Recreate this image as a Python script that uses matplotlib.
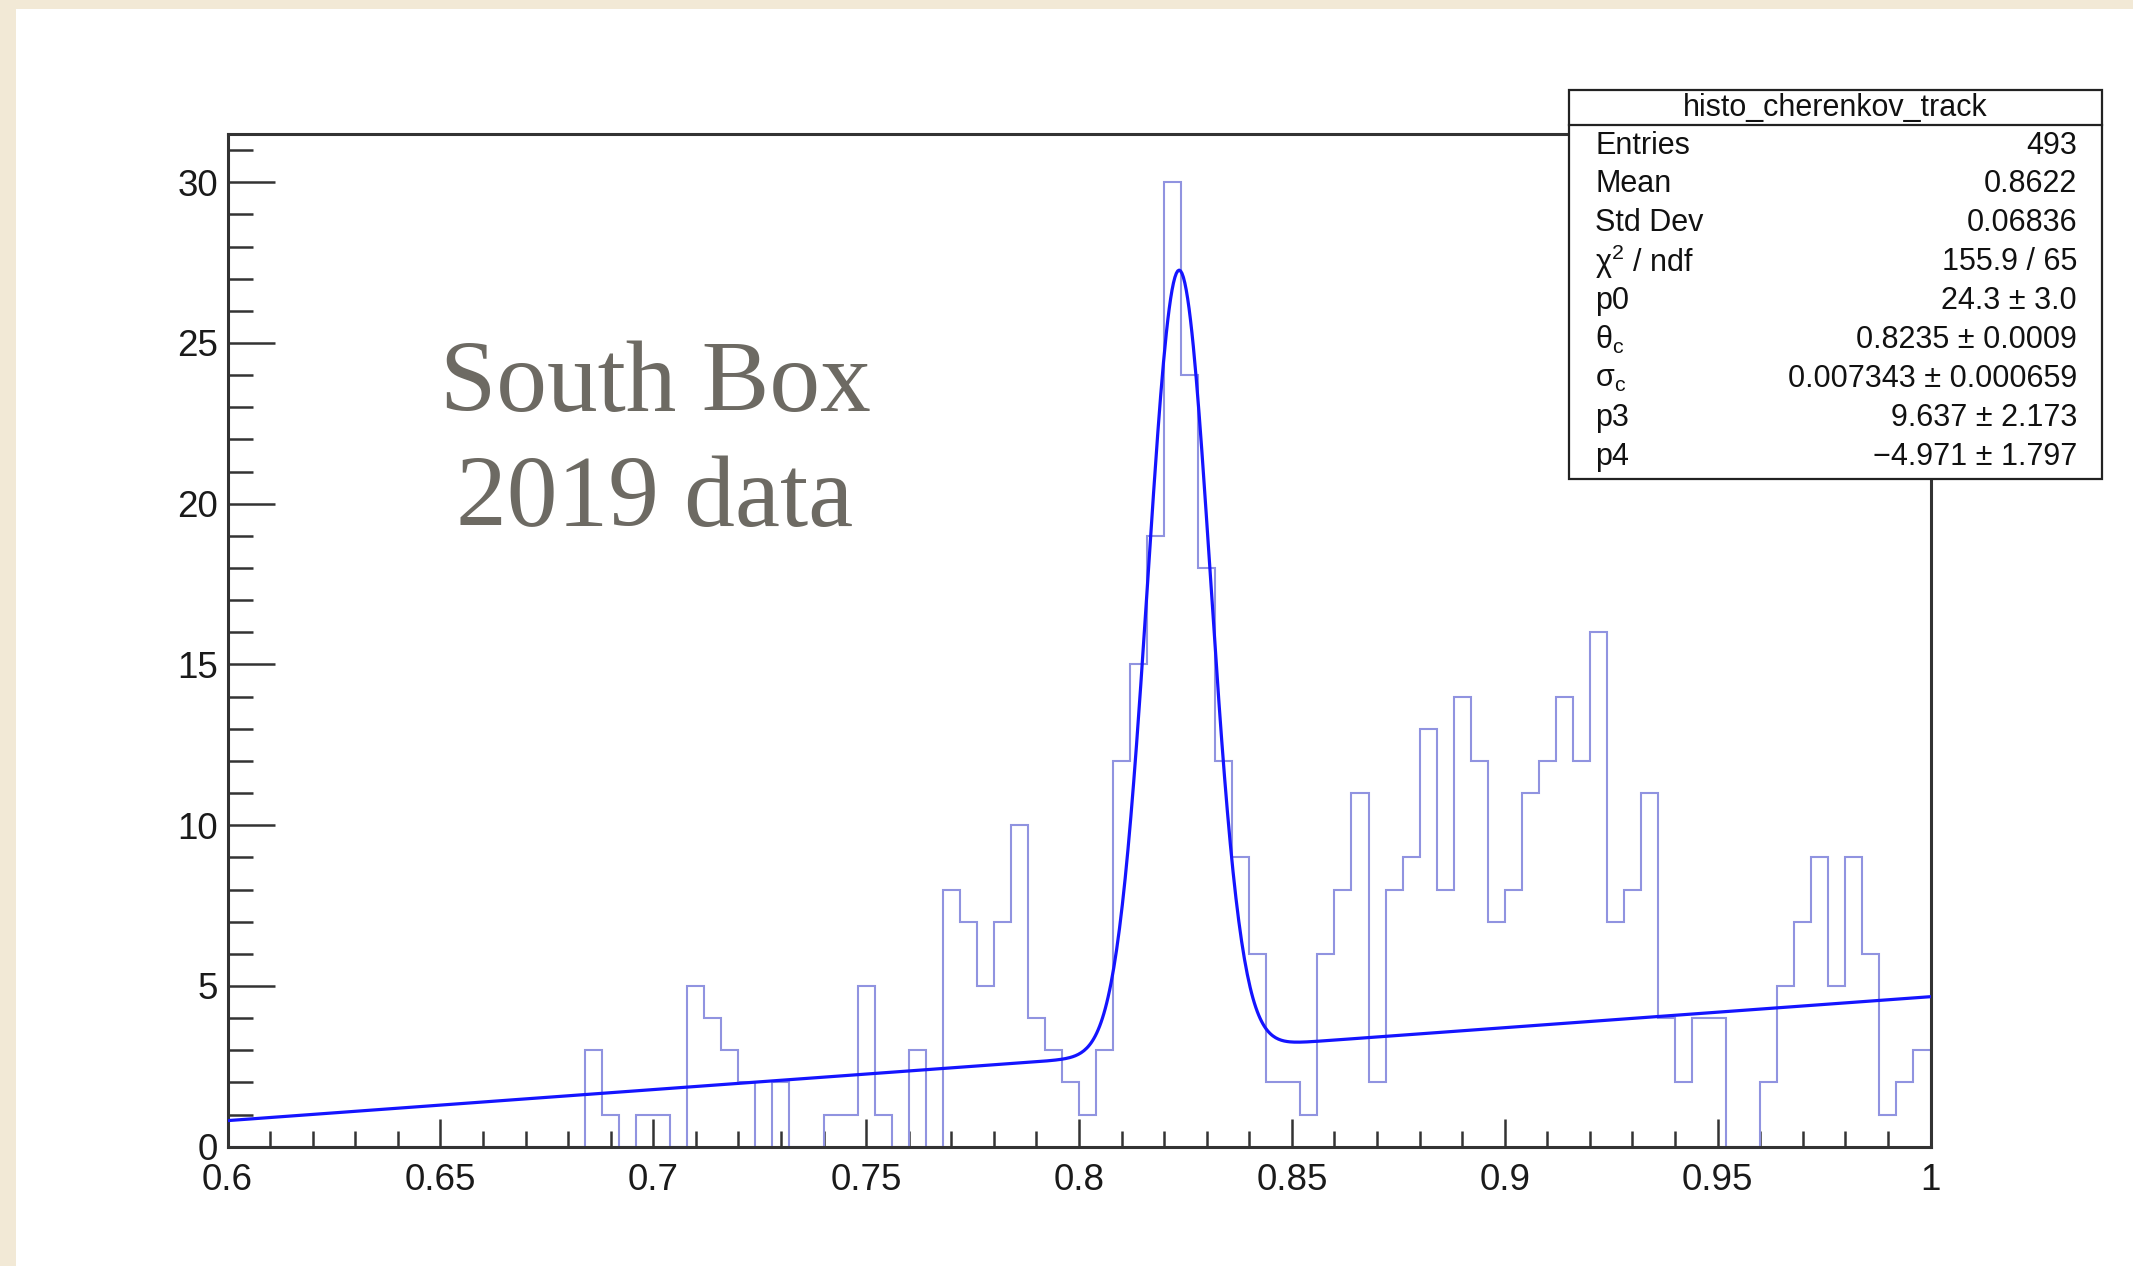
import numpy as np
import matplotlib
matplotlib.use("Agg")
import matplotlib.pyplot as plt
from matplotlib.patches import Rectangle
from matplotlib.ticker import MultipleLocator, FuncFormatter

# ---- histogram: 100 bins between 0.6 and 1.0 ----
x_min, x_max, n_bins = 0.6, 1.0, 100
counts = [
    0, 0, 0, 0, 0, 0, 0, 0, 0, 0,
    0, 0, 0, 0, 0, 0, 0, 0, 0, 0,
    0, 3, 1, 0, 1, 1, 0, 5, 4, 3,
    2, 0, 2, 0, 0, 1, 1, 5, 1, 0,
    3, 0, 8, 7, 5, 7, 10, 4, 3, 2,
    1, 3, 12, 15, 19, 30, 24, 18, 12, 9,
    6, 2, 2, 1, 6, 8, 11, 2, 8, 9,
    13, 8, 14, 12, 7, 8, 11, 12, 14, 12,
    16, 7, 8, 11, 4, 2, 4, 4, 0, 0,
    2, 5, 7, 9, 5, 9, 6, 1, 2, 3,
]

# ---- fit: gaussian + linear background ----
p0, theta_c, sigma_c, p3, p4 = 24.3, 0.8235, 0.007343, 9.637, -4.971

stats_title = "histo_cherenkov_track"
stats_labels = ["Entries", "Mean", "Std Dev", r"$\mathregular{\chi^{2}}$ / ndf", "p0",
                r"$\mathregular{\theta_{c}}$", r"$\mathregular{\sigma_{c}}$", "p3", "p4"]
stats_values = ["493", "0.8622", "0.06836", "155.9 / 65", "24.3 \u00b1 3.0",
                "0.8235 \u00b1 0.0009", "0.007343 \u00b1 0.000659",
                "9.637 \u00b1 2.173", "\u22124.971 \u00b1 1.797"]

W, H = 2133, 1266
plt.rcParams['font.family'] = ['Liberation Sans', 'DejaVu Sans']
plt.rcParams['mathtext.fontset'] = 'custom'
plt.rcParams['mathtext.rm'] = 'Liberation Sans'
plt.rcParams['mathtext.it'] = 'Liberation Sans:italic'

fig = plt.figure(figsize=(W / 100, H / 100), dpi=100)
fig.patch.set_facecolor('#f2e9d6')


def fx(px):
    return px / W


def fy(py):
    return 1 - py / H


# white page
fig.patches.append(Rectangle((fx(16), 0), 1 - fx(16), fy(9), transform=fig.transFigure,
                             facecolor='white', edgecolor='none', zorder=-5))

ax = fig.add_axes([fx(227.5), fy(1146.7), fx(1930.5) - fx(227.5), fy(134) - fy(1146.7)])
ax.set_zorder(2)
ax.set_facecolor('white')

edges = np.linspace(x_min, x_max, n_bins + 1)
ax.stairs(counts, edges, color='#9093e0', lw=1.5, zorder=2)

xf = np.linspace(x_min, x_max, 1200)
yf = p0 * np.exp(-0.5 * ((xf - theta_c) / sigma_c) ** 2) + p3 * xf + p4
ax.plot(xf, yf, color='#1414ff', lw=2.3, zorder=3)

ax.set_xlim(x_min, x_max)
ax.set_ylim(0, 31.5)

ax.xaxis.set_major_locator(MultipleLocator(0.05))
ax.xaxis.set_minor_locator(MultipleLocator(0.01))
ax.yaxis.set_major_locator(MultipleLocator(5))
ax.yaxis.set_minor_locator(MultipleLocator(1))
ax.xaxis.set_major_formatter(FuncFormatter(lambda v, p: f"{v:g}"))
ax.yaxis.set_major_formatter(FuncFormatter(lambda v, p: f"{v:g}"))

ax.tick_params(axis='both', which='both', direction='in', colors='#333333',
               top=False, right=False, labelsize=26.5, labelcolor='#1a1a1a')
ax.tick_params(axis='y', which='major', length=34, width=1.8, pad=7)
ax.tick_params(axis='y', which='minor', length=18, width=1.8)
ax.tick_params(axis='x', which='major', length=20, width=1.8, pad=12)
ax.tick_params(axis='x', which='minor', length=11.5, width=1.8)
for s in ax.spines.values():
    s.set_color('#333333')
    s.set_linewidth(2.2)

# slide caption
caption_style = dict(fontfamily=['Liberation Serif', 'DejaVu Serif'], fontsize=73,
                     color='#6d6a63', ha='center', va='baseline', zorder=4)
fig.text(fx(655), fy(411), "South Box", **caption_style)
fig.text(fx(655), fy(526), "2019 data", **caption_style)

# statistics box
bx0, bx1, by0, by1, bsep = 1568.5, 2101.7, 89.8, 478.8, 125.2
fig.patches.append(Rectangle((fx(bx0), fy(by1)), fx(bx1) - fx(bx0), fy(by0) - fy(by1),
                             transform=fig.transFigure, facecolor='white',
                             edgecolor='#222222', lw=1.6, zorder=5))
fig.lines.append(plt.Line2D([fx(bx0), fx(bx1)], [fy(bsep), fy(bsep)],
                            transform=fig.transFigure, color='#222222', lw=1.6, zorder=6))
fig.text(fx((bx0 + bx1) / 2), fy(107.5), stats_title, fontsize=22, ha='center',
         va='center', color='#111111', zorder=7)
row_y0, row_step = 145.5, 38.9
for i, (lab, val) in enumerate(zip(stats_labels, stats_values)):
    yy = fy(row_y0 + i * row_step)
    fig.text(fx(1595), yy, lab, fontsize=22, ha='left', va='center', color='#111111', zorder=7)
    fig.text(fx(2077), yy, val, fontsize=22, ha='right', va='center', color='#111111', zorder=7)

fig.savefig("out.png", dpi=100, facecolor=fig.get_facecolor())
